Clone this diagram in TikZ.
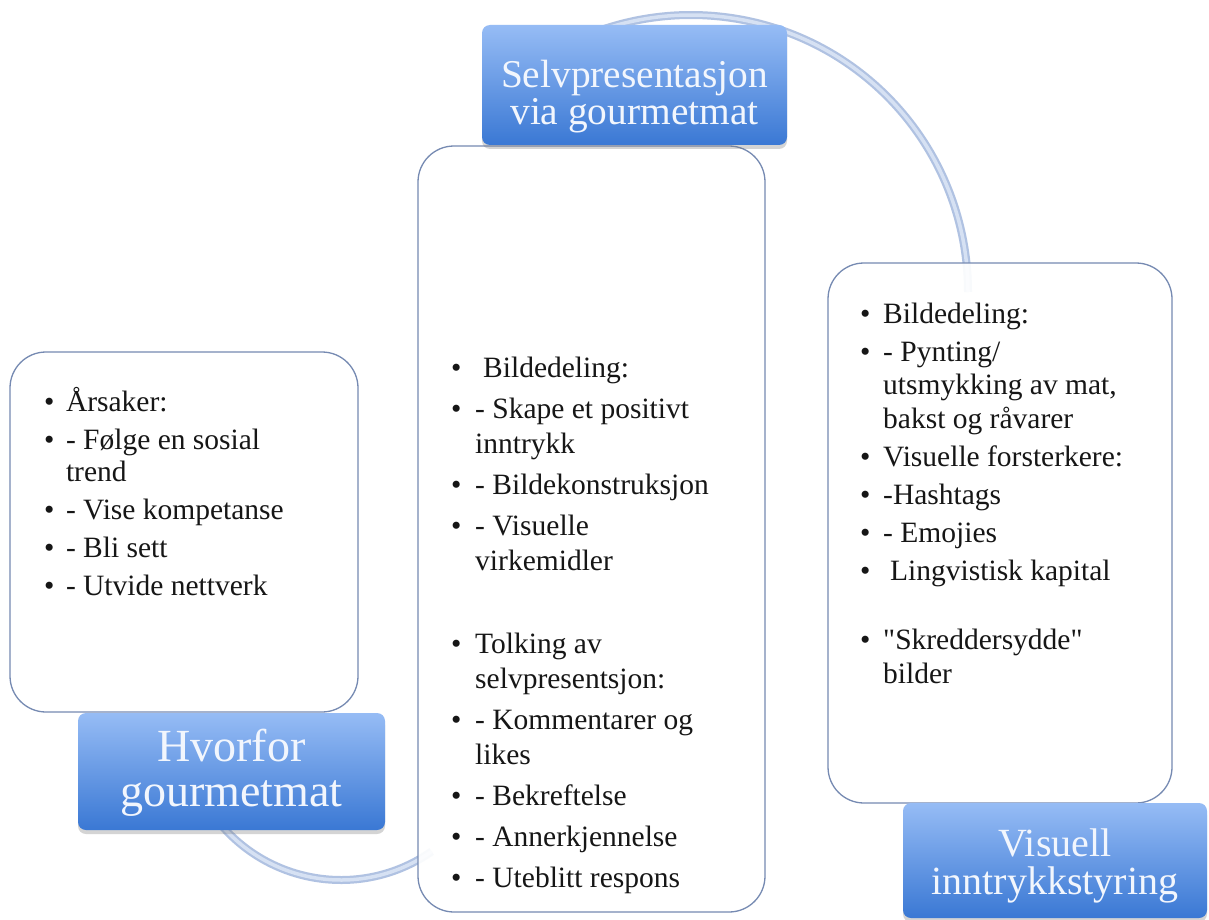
\documentclass[tikz,border=0pt]{standalone}
\usepackage{fontspec}
\setmainfont{Liberation Serif}
\usetikzlibrary{shadows}
\newcommand\straightquote{\XeTeXglyph\XeTeXcharglyph"22\relax}
\definecolor{arcouter}{RGB}{176,194,226}
\definecolor{arcinner}{RGB}{214,225,243}
\definecolor{boxline}{RGB}{118,138,178}
\definecolor{ttop}{RGB}{150,188,245}
\definecolor{tbot}{RGB}{58,120,212}
\definecolor{ttext}{RGB}{242,246,253}
\definecolor{bodyink}{RGB}{22,22,22}
\tikzset{
  contentbox/.style={draw=boxline, line width=1.3pt, fill=white, fill opacity=0.92, rounded corners=36pt, inner sep=0pt},
  titlebox/.style={top color=ttop, bottom color=tbot, draw=none, rounded corners=8pt, inner sep=0pt,
    drop shadow={shadow xshift=0pt, shadow yshift=-4pt, opacity=0.3, fill=black!55}},
  titletext/.style={text=ttext, inner sep=0pt, anchor=south, align=center},
  bodytext/.style={text=bodyink, inner sep=0pt, anchor=base west},
  arcouterline/.style={line width=8pt, draw=arcouter},
  arcinnerline/.style={line width=3.5pt, draw=arcinner},
}
\begin{document}
\begin{tikzpicture}[x=1pt, y=-1pt]
\useasboundingbox (0,0) rectangle (1209,920);
\fill[white] (0,0) rectangle (1209,920);

% connecting arcs (behind everything)
\coordinate (topc) at (691,292);
\coordinate (botc) at (341,722);
\draw[arcouterline] (topc) ++(-115:277) arc[start angle=-115, end angle=0, radius=277];
\draw[arcinnerline] (topc) ++(-115:277) arc[start angle=-115, end angle=0, radius=277];
\draw[arcouterline] (botc) ++(140:158) arc[start angle=140, end angle=55, radius=158];
\draw[arcinnerline] (botc) ++(140:158) arc[start angle=140, end angle=55, radius=158];

% content boxes
\node[contentbox, minimum width=348pt, minimum height=360pt] (lbox) at (184,532) {};
\node[contentbox, minimum width=347pt, minimum height=766pt] (mbox) at (591.5,529) {};
\node[contentbox, minimum width=344pt, minimum height=540pt] (rbox) at (1000,533) {};

% title boxes
\node[titlebox, minimum width=305pt, minimum height=120pt] (tmid) at (634.5,85) {};
\node[titlebox, minimum width=307pt, minimum height=117pt] (tleft) at (231.5,771.5) {};
\node[titlebox, minimum width=304pt, minimum height=115pt] (tright) at (1055,860.5) {};

% title texts
\node[titletext, font=\fontsize{39.4pt}{37pt}\selectfont] (tmidtxt) at (634.5,133.5) {Selvpresentasjon\\via gourmetmat};
\node[titletext, font=\fontsize{46pt}{45pt}\selectfont] (tlefttxt) at (231.5,817) {Hvorfor\\gourmetmat};
\node[titletext, font=\fontsize{40pt}{38pt}\selectfont] (trighttxt) at (1055,903.7) {Visuell\\inntrykkstyring};

% body texts
\node[bodytext, font=\fontsize{29.5pt}{32pt}\selectfont] (ltxt) at (44,411.7) {%
\begin{tabular}[t]{@{}l@{\hspace{11.5pt}}l@{}}
• & Årsaker:\\[6pt]
• & - Følge en sosial\\
  & trend\\[6pt]
• & - Vise kompetanse\\[6pt]
• & - Bli sett\\[6pt]
• & - Utvide nettverk
\end{tabular}};

\node[bodytext, font=\fontsize{29.5pt}{35pt}\selectfont] (mtxt) at (451,377) {%
\begin{tabular}[t]{@{}l@{\hspace{13.7pt}}l@{}}
• & \hspace{8pt}Bildedeling:\\[6pt]
• & - Skape et positivt\\
  & inntrykk\\[6pt]
• & - Bildekonstruksjon\\[6pt]
• & - Visuelle\\
  & virkemidler\\[48pt]
• & Tolking av\\
  & selvpresentsjon:\\[6pt]
• & - Kommentarer og\\
  & likes\\[6pt]
• & - Bekreftelse\\[6pt]
• & - Annerkjennelse\\[6pt]
• & - Uteblitt respons
\end{tabular}};

\node[bodytext, font=\fontsize{29.5pt}{33.5pt}\selectfont] (rtxt) at (860,323) {%
\begin{tabular}[t]{@{}l@{\hspace{12.7pt}}l@{}}
• & Bildedeling:\\[4.5pt]
• & - Pynting/\\
  & utsmykking av mat,\\
  & bakst og råvarer\\[4.5pt]
• & Visuelle forsterkere:\\[4.5pt]
• & -Hashtags\\[4.5pt]
• & - Emojies\\[4.5pt]
• & \hspace{7pt}Lingvistisk kapital\\[36pt]
• & \straightquote Skreddersydde\straightquote\\
  & bilder
\end{tabular}};
\end{tikzpicture}
\end{document}
